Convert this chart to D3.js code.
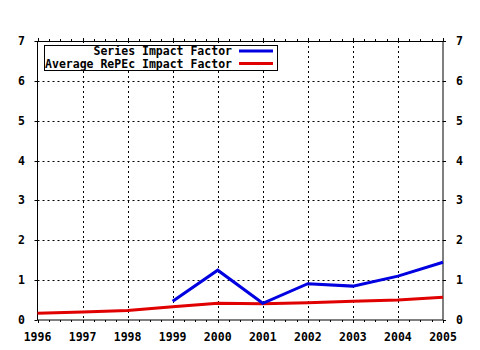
<!DOCTYPE html>
<html><head><meta charset="utf-8">
<script src="https://cdn.jsdelivr.net/npm/d3@7"></script>
<style>body{margin:0;background:#fff}svg{display:block}text{font-family:"DejaVu Sans Mono",monospace;font-weight:bold;font-size:11.5px;fill:#000}</style>
</head><body>
<script>
const years = [1996,1997,1998,1999,2000,2001,2002,2003,2004,2005];
const seriesIF = [null,null,null,0.47,1.25,0.42,0.91,0.85,1.1,1.45];
const averageIF = [0.17,0.2,0.24,0.33,0.42,0.41,0.43,0.47,0.5,0.57];
const yTicks = [0,1,2,3,4,5,6,7];
const legendLabels = ["Series Impact Factor","Average RePEc Impact Factor"];
const colors = ["#0000e0","#e00000"];

const W=480,H=350, L=37.5, R=443, T=41, B=320;
const svg=d3.select("body").append("svg").attr("width",W).attr("height",H);
const x=d3.scaleLinear().domain([1996,2005]).range([L,R]);
const y=d3.scaleLinear().domain([0,7]).range([B,T]);

// grid
const g=svg.append("g").attr("stroke","#000").attr("stroke-dasharray","2,3").attr("stroke-width",1);
years.slice(1,-1).forEach(v=>g.append("line").attr("x1",Math.round(x(v))+0.5).attr("x2",Math.round(x(v))+0.5).attr("y1",T).attr("y2",B));
yTicks.slice(1,-1).forEach(v=>g.append("line").attr("x1",L).attr("x2",R).attr("y1",Math.round(y(v))+0.5).attr("y2",Math.round(y(v))+0.5));

// minor x ticks
const minor=[];
for(let i=0;i<years.length-1;i++) for(let k=1;k<4;k++) minor.push(years[i]+k/4);
const tk=svg.append("g").attr("stroke","#000").attr("stroke-width",1);
minor.forEach(v=>{const px=Math.round(x(v))+0.5;
  tk.append("line").attr("x1",px).attr("x2",px).attr("y1",B).attr("y2",B+2);
  tk.append("line").attr("x1",px).attr("x2",px).attr("y1",T).attr("y2",T-2);});
years.forEach(v=>{const px=Math.round(x(v))+0.5;
  tk.append("line").attr("x1",px).attr("x2",px).attr("y1",B).attr("y2",B+3);
  tk.append("line").attr("x1",px).attr("x2",px).attr("y1",T).attr("y2",T-3);});
yTicks.forEach(v=>{const py=Math.round(y(v))+0.5;
  tk.append("line").attr("x1",L-3).attr("x2",L).attr("y1",py).attr("y2",py);
  tk.append("line").attr("x1",R).attr("x2",R+3).attr("y1",py).attr("y2",py);});

// frame
svg.append("rect").attr("x",L).attr("y",T+0.5).attr("width",R-L).attr("height",B-T-0.5)
  .attr("fill","none").attr("stroke","#000").attr("stroke-width",1);

// labels
years.forEach(v=>svg.append("text").attr("x",x(v)).attr("y",341).attr("text-anchor","middle").text(v));
yTicks.forEach(v=>{
  svg.append("text").attr("x",25).attr("y",y(v)+4).attr("text-anchor","end").text(v);
  svg.append("text").attr("x",456).attr("y",y(v)+4).attr("text-anchor","start").text(v);
});

// lines
const line=d3.line().defined(d=>d[1]!=null).x(d=>x(d[0])).y(d=>y(d[1]));
[averageIF,seriesIF].forEach((s,i)=>{
  svg.append("path").datum(years.map((yr,j)=>[yr,s[j]])).attr("d",line)
    .attr("fill","none").attr("stroke",i===0?colors[1]:colors[0]).attr("stroke-width",3);
});

// legend
svg.append("rect").attr("x",44.5).attr("y",45.5).attr("width",233).attr("height",25).attr("fill","#fff").attr("stroke","#000");
legendLabels.forEach((t,i)=>{
  const cy=51+i*12.5;
  svg.append("text").attr("x",232).attr("y",cy+4).attr("text-anchor","end").text(t);
  svg.append("line").attr("x1",239).attr("x2",273).attr("y1",cy).attr("y2",cy).attr("stroke",colors[i]).attr("stroke-width",3);
});
</script>
</body></html>
